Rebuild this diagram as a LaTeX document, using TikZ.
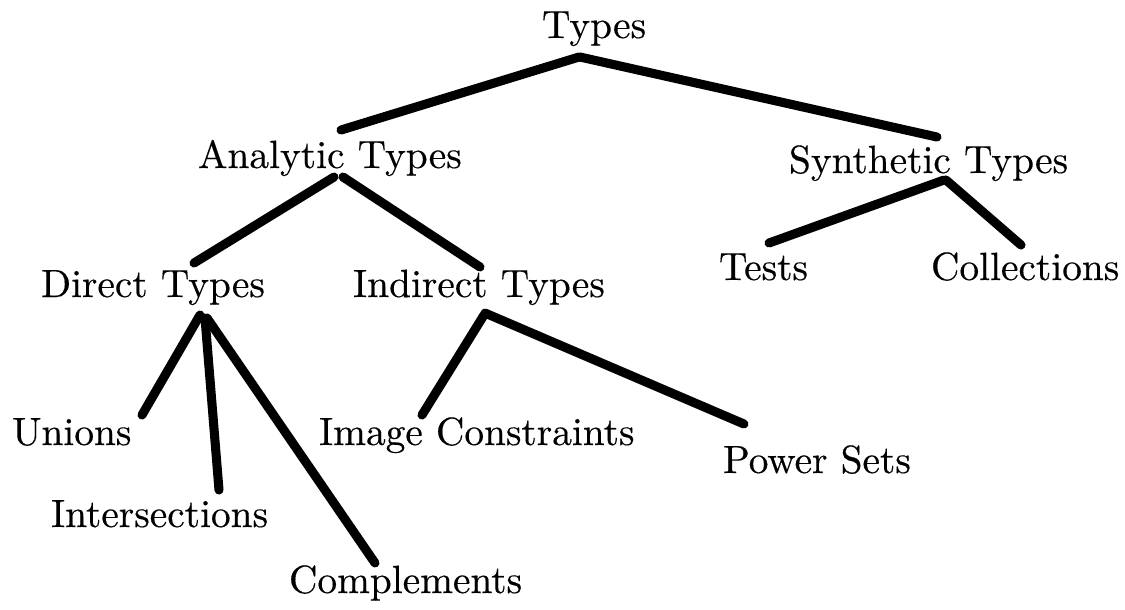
\documentclass[tikz,border=0pt]{standalone}
\usepackage{fontspec}
\usetikzlibrary{calc}
% slightly heavier roman for the labels
\newfontfamily\labelrm{lmroman10-regular.otf}[FakeBold=0.35]
\begin{document}
\begin{tikzpicture}[x=0.254pt, y=-0.254pt,
  lbl/.style={anchor=base west, inner sep=0pt, outer sep=0pt,
              font=\labelrm\fontsize{10}{12}\selectfont},
  edge/.style={line width=2.3pt, line cap=round, line join=round}]
\useasboundingbox (0,0) rectangle (1125,609);

% labels of the type hierarchy
\node[lbl] (types)       at (542,38)  {Types};
\node[lbl] (analytic)    at (198,168) {Analytic Types};
\node[lbl] (synthetic)   at (789,173) {Synthetic Types};
\node[lbl] (direct)      at (41,297)  {Direct Types};
\node[lbl] (indirect)    at (353,297) {Indirect Types};
\node[lbl] (tests)       at (719,280) {Tests};
\node[lbl] (collections) at (931,280) {Collections};
\node[lbl] (unions)      at (12,445)  {Unions};
\node[lbl] (inter)       at (51,527)  {Intersections};
\node[lbl] (image)       at (319,445) {Image Constraints};
\node[lbl] (power)       at (723,473) {Power Sets};
\node[lbl] (compl)       at (289,593) {Complements};

% branches
\draw[edge] ($(types.base west)+(37,19)$) -- ($(analytic.base west)+(143,-38)$);
\draw[edge] ($(types.base west)+(38,19)$) -- ($(synthetic.base west)+(148,-36)$);
\draw[edge] ($(analytic.base west)+(136,9)$) -- ($(direct.base west)+(153,-34)$);
\draw[edge] ($(analytic.base west)+(145,9)$) -- ($(indirect.base west)+(127,-30)$);
\draw[edge] ($(synthetic.base west)+(155,7)$) -- ($(tests.base west)+(50,-37)$);
\draw[edge] ($(synthetic.base west)+(157,7)$) -- ($(collections.base west)+(90,-35)$);
\draw[edge] ($(direct.base west)+(159,18)$) -- ($(unions.base west)+(130,-30)$);
\draw[edge] ($(direct.base west)+(164,21)$) -- ($(inter.base west)+(168,-37)$);
\draw[edge] ($(direct.base west)+(166,21)$) -- ($(compl.base west)+(86,-30)$);
\draw[edge] ($(indirect.base west)+(131,18)$) -- ($(image.base west)+(103,-30)$);
\draw[edge] ($(indirect.base west)+(132,16)$) -- ($(power.base west)+(21,-49)$);
\end{tikzpicture}
\end{document}
